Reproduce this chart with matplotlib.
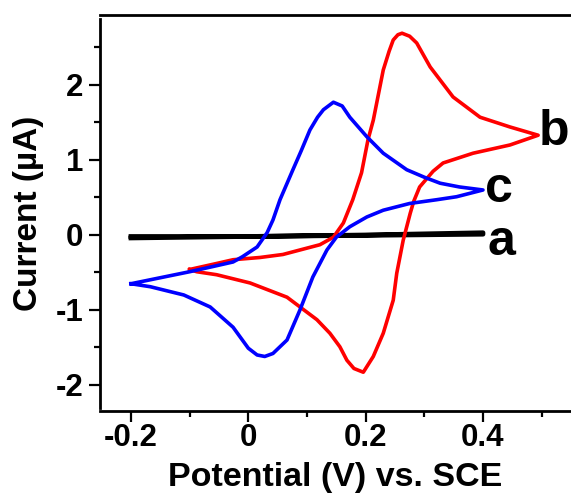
import matplotlib
matplotlib.use("Agg")
import matplotlib.pyplot as plt
from matplotlib.ticker import MultipleLocator

plt.rcParams['font.family'] = ['Liberation Sans', 'DejaVu Sans']
plt.rcParams['font.weight'] = 'bold'
plt.rcParams['axes.unicode_minus'] = False

# curve a : bare electrode, almost flat loop
xa = [-0.2, 0.0, 0.2, 0.4, 0.4, 0.2, 0.0, -0.2]
ya = [-0.04, -0.02, 0.0, 0.03, 0.01, -0.005, -0.02, -0.02]

# curve b (red)
xb = [-0.1, -0.054, -0.026, 0.02, 0.059, 0.088, 0.122, 0.145, 0.162, 0.178,
      0.193, 0.204, 0.213, 0.23, 0.24, 0.247, 0.255, 0.262, 0.275, 0.287, 0.31,
      0.349, 0.395, 0.446, 0.494,
      0.446, 0.383, 0.332, 0.315, 0.304, 0.292, 0.282, 0.276, 0.264, 0.253,
      0.247, 0.23, 0.213, 0.196, 0.18, 0.168, 0.156, 0.139, 0.117, 0.066, 0.003,
      -0.054, -0.088, -0.1]
yb = [-0.46, -0.38, -0.33, -0.3, -0.26, -0.2, -0.13, -0.03, 0.16, 0.47,
      0.83, 1.27, 1.53, 2.2, 2.45, 2.6, 2.67, 2.69, 2.65, 2.56, 2.24,
      1.84, 1.57, 1.44, 1.33,
      1.2, 1.09, 0.96, 0.85, 0.75, 0.64, 0.45, 0.29, -0.07, -0.51,
      -0.87, -1.31, -1.62, -1.83, -1.78, -1.67, -1.49, -1.31, -1.13, -0.83, -0.64,
      -0.53, -0.49, -0.46]

# curve c (blue)
xc = [-0.2, -0.15, -0.1, -0.06, -0.026, -0.01, 0.015, 0.032, 0.042, 0.054, 0.076,
      0.09, 0.105, 0.118, 0.128, 0.145, 0.16, 0.173, 0.202, 0.23, 0.27, 0.3, 0.327,
      0.36, 0.4,
      0.355, 0.321, 0.275, 0.23, 0.202, 0.173, 0.15, 0.134, 0.11, 0.088, 0.066,
      0.042, 0.028, 0.015, 0.0, -0.026, -0.065, -0.11, -0.167, -0.2]
yc = [-0.65, -0.57, -0.49, -0.42, -0.36, -0.29, -0.16, 0.03, 0.2, 0.47, 0.87,
      1.12, 1.4, 1.57, 1.67, 1.77, 1.72, 1.57, 1.31, 1.09, 0.87, 0.77, 0.69,
      0.64, 0.6,
      0.51, 0.47, 0.42, 0.33, 0.24, 0.11, -0.03, -0.2, -0.56, -1.0, -1.4,
      -1.58, -1.62, -1.6, -1.51, -1.23, -0.96, -0.8, -0.69, -0.65]

curve_labels = ['a', 'b', 'c']
label_x = [0.407, 0.495, 0.403]
label_y = [-0.27, 1.2, 0.44]

fig = plt.figure(figsize=(5.71, 4.96), dpi=100)
ax = fig.add_axes([100/571, 85/496, 471/571, 396/496])

ax.plot(xa, ya, color='black', lw=3.4, solid_joinstyle='round')
ax.plot(xb, yb, color='#ff0000', lw=2.6, solid_joinstyle='round')
ax.plot(xc, yc, color='#0000ff', lw=2.6, solid_joinstyle='round')

for t, x, y in zip(curve_labels, label_x, label_y):
    ax.text(x, y, t, fontsize=36, fontweight='bold', ha='left', va='baseline',
            clip_on=False)

ax.set_xlim(-0.2528, 0.55)
ax.set_ylim(-2.347, 2.933)

ax.spines['right'].set_visible(False)
for s in ['left', 'top', 'bottom']:
    ax.spines[s].set_linewidth(2)
ax.spines['left'].set_bounds(-2.31, 2.88)

ax.xaxis.set_minor_locator(MultipleLocator(0.1))
ax.yaxis.set_minor_locator(MultipleLocator(0.5))
ax.set_xticks([-0.2, 0, 0.2, 0.4])
ax.set_xticklabels(['-0.2', '0', '0.2', '0.4'])
ax.set_yticks([-2, -1, 0, 1, 2])
ax.set_yticklabels(['-2', '-1', '0', '1', '2'])

ax.tick_params(which='major', direction='out', length=8, width=1.6, labelsize=22.5)
ax.tick_params(which='minor', direction='out', length=4.5, width=1.6)
ax.tick_params(axis='x', pad=1)
ax.tick_params(axis='y', pad=4)
ax.tick_params(top=False, which='both')

ax.set_xlabel('Potential (V) vs. SCE', fontsize=24.5, fontweight='bold', labelpad=6)
ax.set_ylabel('Current (µA)', fontsize=24, fontweight='bold', labelpad=8)

fig.savefig('out.png', dpi=100)
